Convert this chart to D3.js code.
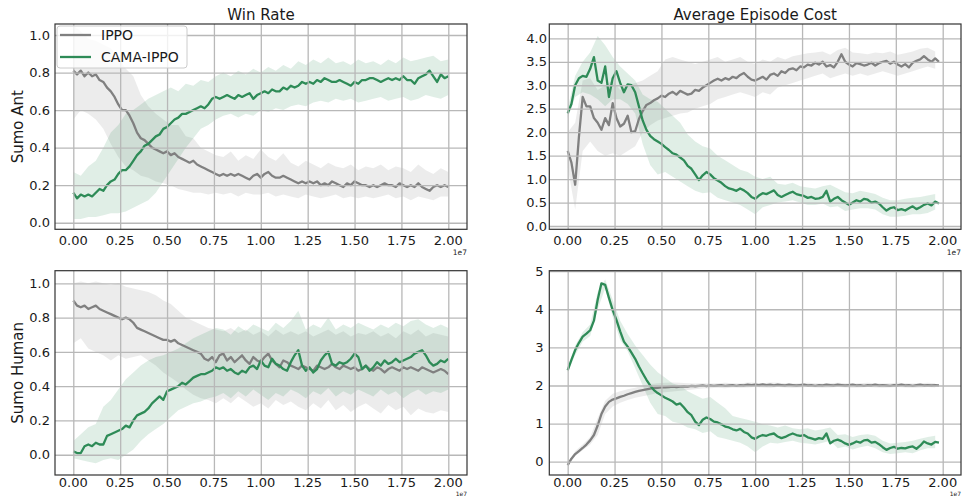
<!DOCTYPE html>
<html><head><meta charset="utf-8">
<script src="https://cdn.jsdelivr.net/npm/d3@7"></script>
<style>
body{margin:0;background:#fff}
svg{display:block}
text{font-family:"DejaVu Sans",sans-serif;fill:#1a1a1a}
</style>
</head><body>
<svg id="c" width="962" height="497"></svg>
<script>
// ---------------- data (x in units of 1e7 steps) ----------------
const seriesNames = ["IPPO", "CAMA-IPPO"];
const colTitles = ["Win Rate", "Average Episode Cost"];
const rowLabels = ["Sumo Ant", "Sumo Human"];
const xTickValues = [0, 0.25, 0.5, 0.75, 1.0, 1.25, 1.5, 1.75, 2.0];
const winTicks = [0.0, 0.2, 0.4, 0.6, 0.8, 1.0];
const antCostTicks = [0.0, 0.5, 1.0, 1.5, 2.0, 2.5, 3.0, 3.5, 4.0];
const humanCostTicks = [0, 1, 2, 3, 4, 5];
const meanStep = 0.02;   // spacing of the mean curves
const bandStep = 0.04;   // spacing of the std bands

// Sumo Ant - Win Rate
const antWinIppo = [
0.81,0.79,0.81,0.78,0.80,0.78,0.79,0.76,0.75,0.72,
0.70,0.67,0.63,0.60,0.60,0.57,0.53,0.48,0.45,0.44,
0.42,0.40,0.39,0.38,0.37,0.38,0.36,0.37,0.35,0.34,
0.33,0.32,0.33,0.31,0.30,0.29,0.28,0.27,0.26,0.25,
0.26,0.25,0.26,0.25,0.26,0.25,0.24,0.23,0.25,0.26,
0.24,0.26,0.27,0.25,0.24,0.24,0.25,0.24,0.23,0.22,
0.21,0.22,0.21,0.22,0.21,0.22,0.20,0.21,0.20,0.22,
0.21,0.20,0.19,0.21,0.20,0.22,0.21,0.20,0.20,0.19,
0.20,0.19,0.20,0.21,0.20,0.20,0.19,0.21,0.20,0.19,
0.20,0.19,0.21,0.19,0.18,0.17,0.19,0.20,0.19,0.20,
0.19];
const antWinCama = [
0.16,0.13,0.15,0.14,0.15,0.14,0.16,0.18,0.17,0.20,
0.22,0.23,0.26,0.28,0.28,0.30,0.33,0.36,0.38,0.41,
0.42,0.44,0.46,0.47,0.50,0.51,0.53,0.55,0.56,0.58,
0.58,0.59,0.60,0.61,0.62,0.61,0.63,0.66,0.67,0.66,
0.67,0.68,0.67,0.66,0.68,0.67,0.68,0.69,0.66,0.68,
0.69,0.70,0.69,0.71,0.70,0.70,0.72,0.71,0.73,0.72,
0.73,0.75,0.74,0.75,0.74,0.76,0.75,0.77,0.76,0.75,
0.75,0.76,0.75,0.74,0.73,0.75,0.74,0.76,0.76,0.77,
0.77,0.76,0.75,0.76,0.77,0.76,0.77,0.76,0.78,0.76,
0.76,0.74,0.77,0.78,0.79,0.81,0.78,0.75,0.79,0.77,
0.78];
const antWinIppoLo = [
0.55,0.60,0.58,0.55,0.50,0.42,0.35,0.30,0.28,0.25,
0.24,0.22,0.21,0.20,0.18,0.17,0.16,0.16,0.15,0.16,
0.15,0.16,0.14,0.16,0.15,0.15,0.16,0.14,0.15,0.14,
0.13,0.15,0.14,0.13,0.14,0.15,0.13,0.14,0.13,0.14,
0.13,0.14,0.15,0.13,0.14,0.12,0.14,0.13,0.12,0.14,
0.14];
const antWinIppoHi = [
1.05,1.02,0.98,0.97,0.95,0.93,0.88,0.82,0.78,0.68,
0.62,0.58,0.55,0.52,0.52,0.46,0.45,0.40,0.38,0.36,
0.35,0.38,0.33,0.36,0.34,0.39,0.35,0.33,0.37,0.32,
0.30,0.33,0.31,0.29,0.32,0.30,0.29,0.31,0.28,0.30,
0.29,0.31,0.28,0.30,0.29,0.27,0.31,0.28,0.26,0.29,
0.27];
const antWinCamaLo = [
0.02,0.02,0.03,0.03,0.04,0.05,0.05,0.06,0.08,0.10,
0.12,0.16,0.22,0.28,0.34,0.40,0.45,0.50,0.52,0.55,
0.57,0.58,0.56,0.58,0.57,0.60,0.59,0.61,0.60,0.62,
0.63,0.62,0.64,0.65,0.64,0.66,0.65,0.66,0.64,0.65,
0.66,0.67,0.65,0.66,0.67,0.65,0.66,0.68,0.67,0.66,
0.68];
const antWinCamaHi = [
0.27,0.25,0.30,0.33,0.40,0.48,0.52,0.58,0.60,0.63,
0.66,0.68,0.70,0.72,0.70,0.74,0.73,0.76,0.75,0.78,
0.80,0.78,0.81,0.79,0.82,0.80,0.83,0.81,0.84,0.82,
0.86,0.84,0.87,0.85,0.88,0.85,0.86,0.84,0.87,0.85,
0.86,0.84,0.87,0.85,0.88,0.86,0.87,0.88,0.89,0.86,
0.87];

// Sumo Ant - Average Episode Cost
const antCostIppo = [
1.60,1.35,0.88,1.90,2.75,2.55,2.55,2.30,2.20,2.05,
2.30,2.15,2.62,2.30,2.12,2.18,2.35,2.00,2.02,2.28,
2.45,2.58,2.62,2.68,2.72,2.78,2.75,2.82,2.86,2.80,
2.88,2.84,2.80,2.82,2.90,2.88,2.95,3.00,3.05,3.10,
3.14,3.10,3.15,3.12,3.18,3.15,3.22,3.26,3.18,3.12,
3.10,3.14,3.18,3.12,3.22,3.25,3.20,3.30,3.26,3.34,
3.36,3.32,3.40,3.38,3.44,3.42,3.48,3.44,3.50,3.40,
3.43,3.38,3.50,3.66,3.50,3.44,3.40,3.47,3.45,3.42,
3.44,3.48,3.42,3.47,3.50,3.52,3.46,3.50,3.44,3.40,
3.45,3.38,3.48,3.52,3.55,3.62,3.55,3.50,3.57,3.50];
const antCostCama = [
2.40,2.60,3.00,3.15,3.20,3.18,3.35,3.60,3.10,3.05,
3.40,2.75,3.15,3.30,3.05,2.85,3.02,3.00,2.85,2.55,
2.25,2.05,1.92,1.85,1.80,1.75,1.68,1.62,1.55,1.52,
1.46,1.40,1.28,1.22,1.10,0.98,1.08,1.15,1.10,1.02,
0.97,0.92,0.85,0.80,0.78,0.75,0.80,0.76,0.70,0.62,
0.58,0.65,0.70,0.68,0.72,0.76,0.66,0.62,0.66,0.70,
0.73,0.68,0.66,0.64,0.60,0.62,0.58,0.59,0.62,0.75,
0.52,0.58,0.62,0.55,0.50,0.45,0.50,0.55,0.52,0.58,
0.56,0.50,0.52,0.48,0.40,0.33,0.38,0.40,0.34,0.36,
0.33,0.38,0.42,0.36,0.40,0.45,0.48,0.44,0.52,0.48];
const antCostIppoLo = [
1.25,0.35,1.60,1.80,1.60,1.50,1.55,1.50,1.60,1.70,
2.00,2.15,2.25,2.30,2.35,2.40,2.42,2.50,2.55,2.60,
2.70,2.75,2.80,2.85,2.80,2.75,2.85,2.80,2.95,3.00,
3.05,3.10,3.15,3.20,3.25,3.15,3.20,3.25,3.20,3.25,
3.20,3.25,3.30,3.25,3.20,3.25,3.30,3.35,3.40,3.35];
const antCostIppoHi = [
2.00,2.20,3.10,3.15,2.90,3.00,3.10,2.90,3.00,3.05,
3.10,3.20,3.30,3.55,3.60,3.55,3.50,3.45,3.50,3.55,
3.60,3.50,3.55,3.60,3.50,3.45,3.55,3.50,3.60,3.55,
3.62,3.65,3.68,3.70,3.72,3.65,3.75,3.80,3.70,3.68,
3.66,3.70,3.68,3.72,3.65,3.68,3.72,3.78,3.80,3.72];
const antCostCamaLo = [
2.30,2.75,2.85,2.80,2.70,2.55,2.70,2.70,2.60,2.40,
1.75,1.30,1.10,1.15,1.05,0.95,0.85,0.75,0.70,0.72,
0.60,0.55,0.50,0.45,0.35,0.25,0.40,0.45,0.50,0.52,
0.55,0.50,0.45,0.45,0.48,0.40,0.42,0.32,0.35,0.38,
0.38,0.35,0.25,0.20,0.20,0.22,0.25,0.25,0.28,0.35];
const antCostCamaHi = [
2.50,3.20,3.50,3.70,4.05,3.85,3.60,3.40,3.25,3.10,
2.80,2.70,2.65,2.50,2.35,2.20,1.95,1.80,1.70,1.65,
1.50,1.40,1.30,1.20,1.15,1.05,1.00,1.05,0.90,0.88,
0.92,0.85,0.82,0.80,0.85,0.88,0.80,0.72,0.70,0.75,
0.72,0.68,0.60,0.55,0.55,0.58,0.60,0.62,0.65,0.68];

// Sumo Human - Win Rate
const humWinIppo = [
0.90,0.87,0.86,0.87,0.85,0.86,0.87,0.85,0.84,0.83,
0.82,0.81,0.80,0.79,0.80,0.79,0.77,0.74,0.73,0.72,
0.71,0.70,0.69,0.68,0.67,0.67,0.66,0.67,0.65,0.64,
0.63,0.62,0.61,0.60,0.59,0.56,0.55,0.57,0.54,0.58,
0.59,0.55,0.57,0.54,0.56,0.58,0.55,0.53,0.57,0.55,
0.54,0.57,0.59,0.55,0.53,0.51,0.55,0.54,0.52,0.51,
0.50,0.52,0.51,0.50,0.49,0.52,0.51,0.50,0.51,0.53,
0.51,0.50,0.52,0.51,0.50,0.51,0.49,0.50,0.52,0.50,
0.49,0.51,0.50,0.48,0.50,0.51,0.50,0.49,0.51,0.50,
0.51,0.50,0.49,0.51,0.50,0.49,0.48,0.49,0.50,0.49,
0.47];
const humWinCama = [
0.02,0.01,0.01,0.05,0.06,0.05,0.07,0.06,0.06,0.11,
0.12,0.13,0.14,0.15,0.17,0.16,0.20,0.23,0.24,0.25,
0.27,0.30,0.32,0.34,0.32,0.37,0.38,0.39,0.40,0.42,
0.41,0.43,0.45,0.46,0.47,0.47,0.48,0.49,0.51,0.50,
0.51,0.49,0.50,0.48,0.47,0.49,0.48,0.51,0.52,0.50,
0.55,0.52,0.51,0.56,0.53,0.52,0.50,0.49,0.54,0.58,
0.61,0.52,0.49,0.51,0.48,0.50,0.55,0.58,0.60,0.53,
0.52,0.54,0.53,0.54,0.56,0.59,0.57,0.50,0.52,0.49,
0.51,0.54,0.52,0.55,0.53,0.54,0.56,0.54,0.55,0.56,
0.57,0.59,0.60,0.61,0.58,0.54,0.52,0.53,0.55,0.54,
0.56];
const humWinIppoLo = [
0.65,0.68,0.62,0.60,0.58,0.55,0.58,0.56,0.57,0.58,
0.55,0.52,0.48,0.45,0.42,0.38,0.35,0.33,0.32,0.30,
0.33,0.30,0.34,0.31,0.28,0.30,0.27,0.32,0.29,0.31,
0.28,0.26,0.30,0.27,0.32,0.26,0.29,0.25,0.28,0.30,
0.27,0.24,0.29,0.26,0.28,0.23,0.27,0.25,0.24,0.26,
0.25];
const humWinIppoHi = [
1.00,1.01,1.00,1.01,1.00,0.99,1.00,0.98,0.97,0.96,
0.95,0.93,0.90,0.88,0.84,0.80,0.78,0.76,0.74,0.73,
0.72,0.74,0.71,0.73,0.70,0.72,0.69,0.73,0.70,0.72,
0.70,0.72,0.69,0.71,0.73,0.70,0.72,0.69,0.71,0.70,
0.72,0.69,0.71,0.68,0.72,0.70,0.73,0.69,0.71,0.70,
0.69];
const humWinCamaLo = [
-0.02,-0.03,-0.04,-0.05,-0.03,-0.02,-0.03,0.00,0.03,0.08,
0.12,0.15,0.18,0.22,0.26,0.28,0.30,0.31,0.33,0.34,
0.36,0.33,0.37,0.34,0.38,0.35,0.32,0.36,0.34,0.38,
0.36,0.33,0.37,0.35,0.39,0.34,0.37,0.35,0.38,0.36,
0.34,0.38,0.35,0.37,0.33,0.36,0.38,0.35,0.37,0.36,
0.38];
const humWinCamaHi = [
0.08,0.12,0.16,0.18,0.28,0.32,0.38,0.44,0.48,0.52,
0.55,0.57,0.58,0.60,0.62,0.65,0.68,0.70,0.72,0.74,
0.73,0.70,0.75,0.72,0.76,0.74,0.72,0.77,0.74,0.78,
0.84,0.73,0.76,0.74,0.80,0.73,0.76,0.74,0.77,0.75,
0.73,0.76,0.74,0.77,0.75,0.78,0.79,0.76,0.74,0.76,
0.74];

// Sumo Human - Average Episode Cost
const humCostIppo = [
-0.09,0.08,0.20,0.28,0.36,0.45,0.56,0.70,0.95,1.25,
1.45,1.57,1.63,1.66,1.70,1.73,1.77,1.80,1.83,1.86,
1.88,1.90,1.92,1.93,1.94,1.95,1.95,1.96,1.97,1.96,
1.97,1.98,1.97,1.99,1.98,1.99,2.00,1.98,2.00,1.99,
2.00,2.01,1.99,2.00,2.01,1.99,2.01,2.00,2.02,2.01,
2.02,2.01,2.03,2.01,2.02,2.00,2.02,2.01,2.00,2.02,
2.01,2.00,2.01,2.02,2.00,2.01,1.99,2.01,2.00,2.02,
2.01,2.00,2.02,2.01,2.00,2.01,2.02,2.00,2.01,1.99,
2.01,2.00,2.02,2.00,2.01,2.00,1.99,2.01,2.00,2.02,
2.00,2.01,1.99,2.01,2.02,2.00,2.01,2.00,2.01,2.00];
const humCostCama = [
2.40,2.67,2.93,3.12,3.28,3.36,3.45,3.70,4.25,4.68,
4.64,4.30,3.98,3.72,3.42,3.15,3.02,2.86,2.70,2.50,
2.32,2.15,2.00,1.88,1.80,1.74,1.68,1.63,1.58,1.50,
1.53,1.42,1.30,1.22,1.05,0.96,1.10,1.16,1.12,1.05,
1.03,0.98,0.92,0.90,0.85,0.82,0.86,0.78,0.74,0.64,
0.60,0.66,0.70,0.68,0.72,0.74,0.66,0.62,0.65,0.70,
0.74,0.70,0.68,0.70,0.64,0.61,0.58,0.62,0.60,0.74,
0.48,0.55,0.58,0.54,0.48,0.44,0.48,0.53,0.50,0.56,
0.57,0.50,0.52,0.46,0.38,0.31,0.36,0.39,0.34,0.36,
0.35,0.38,0.40,0.34,0.42,0.53,0.48,0.45,0.52,0.50];
const humCostIppoLo = [
-0.12,0.15,0.30,0.45,0.70,1.25,1.45,1.55,1.62,1.68,
1.72,1.76,1.80,1.82,1.84,1.86,1.88,1.90,1.92,1.93,
1.94,1.93,1.95,1.94,1.95,1.96,1.95,1.94,1.96,1.95,
1.94,1.95,1.96,1.95,1.94,1.95,1.96,1.95,1.94,1.95,
1.96,1.95,1.94,1.95,1.96,1.95,1.94,1.95,1.96,1.95];
const humCostIppoHi = [
-0.05,0.28,0.45,0.65,1.15,1.60,1.78,1.85,1.90,1.94,
2.00,2.04,2.06,2.07,2.08,2.07,2.06,2.05,2.06,2.05,
2.06,2.07,2.06,2.05,2.08,2.07,2.06,2.08,2.07,2.06,
2.05,2.06,2.07,2.06,2.05,2.06,2.07,2.06,2.05,2.06,
2.07,2.06,2.05,2.06,2.07,2.06,2.05,2.06,2.07,2.06];
const humCostCamaLo = [
2.35,2.80,3.15,3.30,4.00,4.55,3.80,3.20,2.90,2.45,
2.00,1.55,1.25,1.20,1.05,1.00,0.90,0.85,0.75,0.80,
0.65,0.60,0.55,0.50,0.40,0.25,0.40,0.50,0.48,0.52,
0.55,0.50,0.48,0.45,0.50,0.55,0.35,0.40,0.32,0.38,
0.42,0.35,0.25,0.20,0.22,0.25,0.22,0.30,0.35,0.35];
const humCostCamaHi = [
2.45,3.05,3.40,3.60,4.45,4.78,4.25,3.70,3.35,3.05,
2.80,2.55,2.35,2.20,2.05,2.00,1.85,1.75,1.65,1.70,
1.55,1.40,1.20,1.15,1.10,1.05,0.98,0.95,0.90,0.95,
0.88,0.85,0.88,0.82,0.85,0.90,0.70,0.72,0.65,0.70,
0.72,0.68,0.55,0.48,0.50,0.52,0.55,0.60,0.65,0.68];

// ---------------- styling & layout ----------------
const colors = ["#808080", "#2e8b57"];
const panels = [
  {box:[55,24,467,229.3], xd:[-0.0976,2.0997], yd:[-0.035,1.0586], ticks:winTicks, fmt:d3.format(".1f"), lblEnd:50,
   title:colTitles[0], ylabel:rowLabels[0], xlY:244.5, offY:254.8, offF:7.5,
   s:[[antWinIppo,antWinIppoLo,antWinIppoHi],[antWinCama,antWinCamaLo,antWinCamaHi]], legend:true},
  {box:[549.3,24,961,229.3], xd:[-0.098,2.0976], yd:[-0.070,4.305], ticks:antCostTicks, fmt:d3.format(".1f"), lblEnd:547,
   title:colTitles[1], xlY:244.5, offY:254.8, offF:7.5,
   s:[[antCostIppo,antCostIppoLo,antCostIppoHi],[antCostCama,antCostCamaLo,antCostCamaHi]]},
  {box:[55,270.7,467,475], xd:[-0.0976,2.0997], yd:[-0.118,1.0735], ticks:winTicks, fmt:d3.format(".1f"), lblEnd:50,
   ylabel:rowLabels[1], xlY:486.7, offY:495.5, offF:6,
   s:[[humWinIppo,humWinIppoLo,humWinIppoHi],[humWinCama,humWinCamaLo,humWinCamaHi]]},
  {box:[549.3,270.7,961,475], xd:[-0.098,2.0976], yd:[-0.349,5.012], ticks:humanCostTicks, fmt:d3.format("d"), lblEnd:543.5,
   xlY:486.7, offY:495.5, offF:6,
   s:[[humCostIppo,humCostIppoLo,humCostIppoHi],[humCostCama,humCostCamaLo,humCostCamaHi]]}
];

const svg = d3.select("#c");
svg.append("rect").attr("width",962).attr("height",497).attr("fill","#fff");

panels.forEach((p, pi) => {
  const [x0,y0,x1,y1] = p.box;
  const x = d3.scaleLinear().domain(p.xd).range([x0,x1]);
  const y = d3.scaleLinear().domain(p.yd).range([y1,y0]);
  const g = svg.append("g");
  const cid = "clip"+pi;
  svg.append("clipPath").attr("id",cid).append("rect")
     .attr("x",x0).attr("y",y0).attr("width",x1-x0).attr("height",y1-y0);
  const plot = g.append("g").attr("clip-path",`url(#${cid})`);

  // bands
  p.s.forEach((ser, si) => {
    const lo = ser[1], hi = ser[2];
    const area = d3.area()
      .x((d,i)=>x(i*bandStep)).y0((d,i)=>y(lo[i])).y1((d,i)=>y(hi[i]))
      .curve(d3.curveLinear);
    plot.append("path").datum(lo).attr("d",area)
      .attr("fill",colors[si]).attr("fill-opacity",0.15);
  });

  // grid
  const gx = g.append("g").attr("transform",`translate(0,${y1})`)
    .call(d3.axisBottom(x).tickValues(xTickValues).tickSize(-(y1-y0)).tickFormat(""));
  const gy = g.append("g").attr("transform",`translate(${x0},0)`)
    .call(d3.axisLeft(y).tickValues(p.ticks).tickSize(-(x1-x0)).tickFormat(""));
  [gx,gy].forEach(a=>{
    a.select(".domain").remove();
    a.selectAll("line").attr("stroke","#b8b8b8").attr("stroke-width",1.3);
  });

  // lines
  p.s.forEach((ser, si) => {
    const line = d3.line().x((d,i)=>x(i*meanStep)).y(d=>y(d));
    plot.append("path").datum(ser[0]).attr("d",line)
      .attr("fill","none").attr("stroke",colors[si]).attr("stroke-width",2.3)
      .attr("stroke-linejoin","round");
  });

  // spines
  g.append("rect").attr("x",x0).attr("y",y0).attr("width",x1-x0).attr("height",y1-y0)
    .attr("fill","none").attr("stroke","#333").attr("stroke-width",1.2);

  // tick labels
  g.selectAll(".xl").data(xTickValues).enter().append("text")
    .attr("x",d=>x(d)).attr("y",p.xlY).attr("text-anchor","middle")
    .attr("font-size",13).text(d=>d3.format(".2f")(d));
  g.selectAll(".yl").data(p.ticks).enter().append("text")
    .attr("x",p.lblEnd).attr("y",d=>y(d)+4.7).attr("text-anchor","end")
    .attr("font-size",13).text(d=>p.fmt(d));

  // offset text (kept inside the window)
  g.append("text").attr("x",x1).attr("y",p.offY).attr("text-anchor","end")
    .attr("font-size",p.offF).attr("fill","#333").text("1e7");

  if (p.title) g.append("text").attr("x",(x0+x1)/2).attr("y",y0-4).attr("text-anchor","middle")
    .attr("font-size",15).text(p.title);
  if (p.ylabel) g.append("text")
    .attr("transform",`translate(23,${(y0+y1)/2}) rotate(-90)`)
    .attr("text-anchor","middle").attr("font-size",15).text(p.ylabel);

  if (p.legend) {
    const lg = g.append("g");
    lg.append("rect").attr("x",57).attr("y",26).attr("width",130).attr("height",42).attr("rx",3)
      .attr("fill","#fff").attr("fill-opacity",0.8).attr("stroke","#cccccc").attr("stroke-width",1);
    seriesNames.forEach((n,i)=>{
      const yy = 35 + i*22;
      lg.append("line").attr("x1",60).attr("x2",91).attr("y1",yy).attr("y2",yy)
        .attr("stroke",colors[i]).attr("stroke-width",2.3);
      lg.append("text").attr("x",101).attr("y",yy+5).attr("font-size",14).text(n);
    });
  }
});
</script>
</body></html>
